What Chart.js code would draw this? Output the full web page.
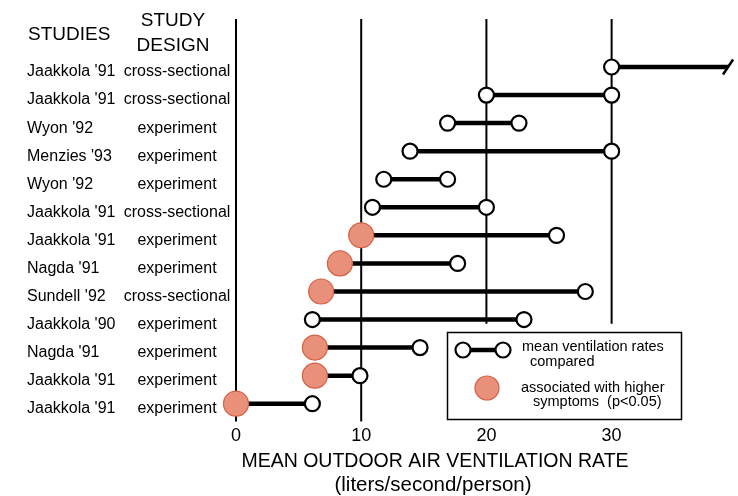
<!DOCTYPE html>
<html>
<head>
<meta charset="utf-8">
<script src="https://cdn.jsdelivr.net/npm/chart.js@4.4.0/dist/chart.umd.min.js"></script>
<style>
  html, body { margin: 0; padding: 0; background: #fff; }
</style>
</head>
<body>
<canvas id="chart" width="738" height="496"></canvas>
<script>
// rows, top to bottom
const studies = ["Jaakkola '91", "Jaakkola '91", "Wyon '92", "Menzies '93", "Wyon '92", "Jaakkola '91",
  "Jaakkola '91", "Nagda '91", "Sundell '92", "Jaakkola '90", "Nagda '91", "Jaakkola '91", "Jaakkola '91"];
const designs = ["cross-sectional", "cross-sectional", "experiment", "experiment", "experiment", "cross-sectional",
  "experiment", "experiment", "cross-sectional", "experiment", "experiment", "experiment", "experiment"];
// liters/second/person
const lowRate  = [30, 20, 16.9, 13.9, 11.8, 10.9, 10, 8.3, 6.8, 6.1, 6.3, 6.3, 0];
const highRate = [39.3, 30, 22.6, 30, 16.9, 20, 25.6, 17.7, 27.9, 23, 14.7, 9.9, 6.1];
const lowSignificant = [false, false, false, false, false, false, true, true, true, false, true, true, true];
const highOffScale = [true, false, false, false, false, false, false, false, false, false, false, false, false];
const tickValues = [0, 10, 20, 30];

const FONT = '"Liberation Sans", Arial, Helvetica, sans-serif';
const SALMON = 'rgb(232,144,122)';
const SALMON_EDGE = 'rgb(214,96,68)';

const rowSets = studies.map((name, i) => {
  const isBreak = (c) => c.dataIndex === 1 && highOffScale[i];
  const isSig = (c) => c.dataIndex === 0 && lowSignificant[i];
  return {
    label: name + ' ' + designs[i],
    data: [{ x: lowRate[i], y: i }, { x: highRate[i], y: i }],
    borderColor: '#000',
    borderWidth: 4.5,
    clip: false,
    order: 0,
    pointStyle: c => isBreak(c) ? 'line' : 'circle',
    pointRotation: c => isBreak(c) ? -56 : 0,
    pointRadius: c => isBreak(c) ? 9 : (isSig(c) ? 12.5 : 7.5),
    pointHoverRadius: c => isBreak(c) ? 9 : (isSig(c) ? 12.5 : 7.5),
    pointBackgroundColor: c => isSig(c) ? SALMON : '#fff',
    pointBorderColor: c => isSig(c) ? SALMON_EDGE : '#000',
    pointBorderWidth: c => isSig(c) ? 1.2 : (isBreak(c) ? 2.5 : 2.2)
  };
});

// vertical reference lines at each tick; the 20 and 30 lines stop near the legend
const guideSets = tickValues.map(v => ({
  label: 'guide ' + v,
  data: [{ x: v, y: -1.71 }, { x: v, y: v >= 20 ? 9.15 : 12.63 }],
  borderColor: '#000',
  borderWidth: 2,
  pointRadius: 0,
  clip: false,
  order: 1
}));

const sideText = {
  id: 'sideText',
  afterDraw(chart) {
    const ctx = chart.ctx;
    const ys = chart.scales.y;
    ctx.save();
    ctx.fillStyle = '#000';
    ctx.textBaseline = 'middle';

    ctx.font = '19px ' + FONT;
    ctx.textAlign = 'left';
    ctx.fillText('STUDIES', 28, 35);
    ctx.textAlign = 'center';
    ctx.fillText('STUDY', 173, 21);
    ctx.fillText('DESIGN', 173, 46);

    ctx.font = '16px ' + FONT;
    studies.forEach((s, i) => {
      const py = ys.getPixelForValue(i) + 5;
      ctx.textAlign = 'left';
      ctx.fillText(s, 27, py);
      ctx.textAlign = 'center';
      ctx.fillText(designs[i], 177, py);
    });

    // axis title
    ctx.textAlign = 'center';
    ctx.font = '19.5px ' + FONT;
    ctx.fillText('MEAN OUTDOOR AIR VENTILATION RATE', 435, 462);
    ctx.font = '20.5px ' + FONT;
    ctx.fillText('(liters/second/person)', 433, 485);

    // legend box
    ctx.strokeStyle = '#000';
    ctx.lineWidth = 1.5;
    ctx.strokeRect(447.5, 332.5, 234, 87);
    ctx.lineWidth = 4.5;
    ctx.beginPath();
    ctx.moveTo(463, 350);
    ctx.lineTo(503, 350);
    ctx.stroke();
    ctx.lineWidth = 2.2;
    [463, 503].forEach(cx => {
      ctx.beginPath();
      ctx.arc(cx, 350, 7.5, 0, Math.PI * 2);
      ctx.fillStyle = '#fff';
      ctx.fill();
      ctx.stroke();
    });
    ctx.beginPath();
    ctx.arc(487, 388, 12, 0, Math.PI * 2);
    ctx.fillStyle = SALMON;
    ctx.fill();
    ctx.strokeStyle = SALMON_EDGE;
    ctx.lineWidth = 1.2;
    ctx.stroke();

    ctx.fillStyle = '#000';
    ctx.textAlign = 'left';
    ctx.font = '14.5px ' + FONT;
    ctx.fillText('mean ventilation rates', 522, 347);
    ctx.fillText('compared', 530, 362);
    ctx.fillText('associated with higher', 521, 388);
    ctx.fillText('symptoms  (p<0.05)', 533, 402);
    ctx.restore();
  }
};

new Chart(document.getElementById('chart'), {
  type: 'line',
  data: { datasets: rowSets.concat(guideSets) },
  options: {
    responsive: false,
    animation: false,
    layout: { padding: { left: 236, right: 2, top: 19, bottom: 45 } },
    plugins: { legend: { display: false }, tooltip: { enabled: false } },
    scales: {
      x: {
        type: 'linear',
        min: 0,
        max: 39,
        grid: { display: false, drawTicks: false },
        border: { display: false },
        ticks: {
          padding: 4,
          color: '#000',
          font: { family: FONT, size: 18 }
        },
        afterBuildTicks: s => { s.ticks = tickValues.map(v => ({ value: v })); },
        afterFit: s => { s.paddingLeft = 0; s.paddingRight = 0; }
      },
      y: {
        type: 'linear',
        reverse: true,
        min: -1.71,
        max: 12.63,
        display: false
      }
    }
  },
  plugins: [sideText]
});
</script>
</body>
</html>
